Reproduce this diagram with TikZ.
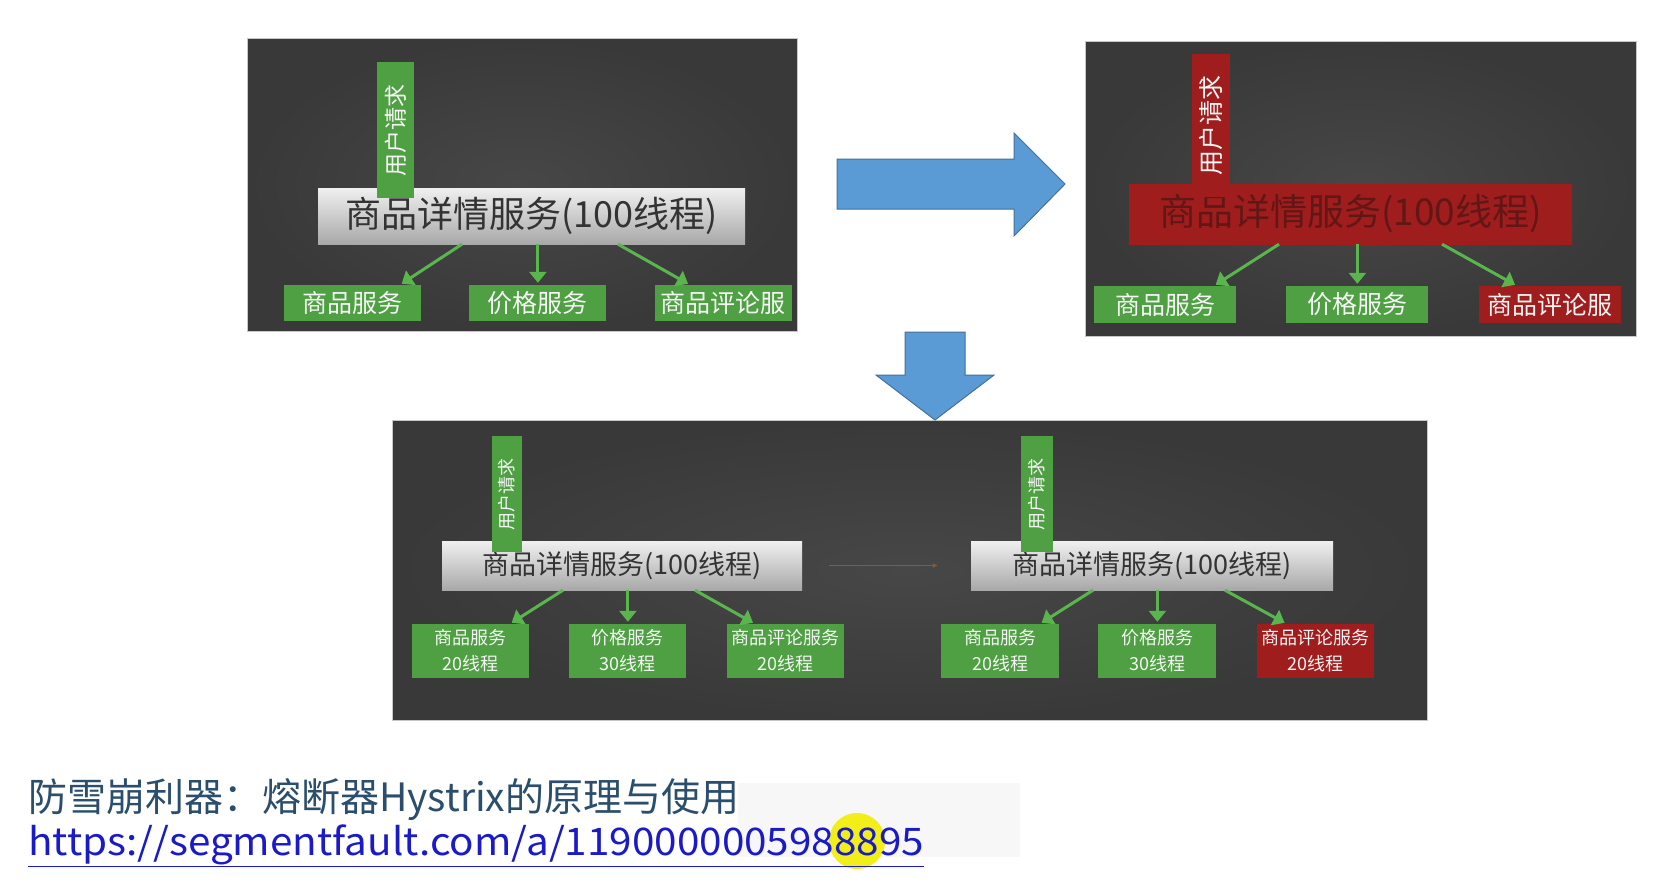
\documentclass[tikz,border=0pt]{standalone}
\usepackage{fontspec}
\setmainfont{Noto Sans CJK SC}
\newfontfamily\linkfont[FakeStretch=1.064]{Noto Sans CJK SC}
\usetikzlibrary{positioning, arrows.meta}
\definecolor{panellight}{HTML}{474747}
\definecolor{paneldark}{HTML}{393939}
\definecolor{boxgreen}{HTML}{4FA043}
\definecolor{boxred}{HTML}{A01D1D}
\definecolor{redtext}{HTML}{621616}
\definecolor{flowgreen}{HTML}{5BB54F}
\definecolor{traceorange}{HTML}{8C5A2E}
\definecolor{blockblue}{HTML}{5B9BD5}
\definecolor{blockedge}{HTML}{41719C}
\definecolor{titleblue}{HTML}{2A4E6C}
\definecolor{linkblue}{HTML}{1A1AC8}
\definecolor{hilite}{HTML}{F2EE1A}

\begin{document}
\begin{tikzpicture}[
    x=1pt, y=-1pt,
    panel/.style={rectangle, draw=black!22, line width=1pt, inner color=panellight,
                  outer color=paneldark, inner sep=0pt},
    detail/.style={rectangle, top color=black!6, bottom color=black!34, text=black!80,
                   inner sep=0pt, font=\fontsize{36pt}{40pt}\selectfont},
    svc/.style={rectangle, fill=boxgreen, text=black!4, inner sep=0pt,
                font=\fontsize{25pt}{28pt}\selectfont},
    svcsmall/.style={svc, align=center, minimum width=117pt, minimum height=54pt,
                     font=\fontsize{18pt}{26pt}\selectfont},
    req/.style={svc, rotate=90},
    flow/.style={-{Triangle[length=11pt, width=17pt]}, line width=3pt, flowgreen, shorten >=2pt},
    block/.style={fill=blockblue, draw=blockedge, line width=1pt}
  ]
    \useasboundingbox (0,0) rectangle (1654,889);
    \fill[white] (0,0) rectangle (1654,889);

    \node[panel, minimum width=550pt, minimum height=293pt] (p1) at (522,184.5) {};
    \node[panel, minimum width=551pt, minimum height=295pt] (p2) at (1360.5,188.5) {};
    \node[panel, minimum width=1035pt, minimum height=300pt] (p3) at (909.5,570) {};

    \node[detail, minimum width=427pt, minimum height=56pt] (d1) at (531.5,216) {商品详情服务(100线程)};
    \node[req, minimum width=136pt, minimum height=37pt, font=\fontsize{23pt}{26pt}\selectfont] (u1) at (395.5,130) {用户请求};
    \node[svc, minimum width=137pt, minimum height=36pt] (b11) at (352.5,303) {商品服务};
    \node[svc, minimum width=137pt, minimum height=36pt, right=48pt of b11] (b12) {价格服务};
    \node[svc, minimum width=137pt, minimum height=36pt, right=48pt of b12] (b13) {商品评论服};
    \draw[flow] ([xshift=-69.5pt]d1.south) -- ([xshift=47.5pt]b11.north);
    \draw[flow] (b12.north |- d1.south) -- (b12.north);
    \draw[flow] ([xshift=86.5pt]d1.south) -- ([xshift=-33.5pt]b13.north);

    \node[detail, fill=boxred, top color=boxred, bottom color=boxred, text=redtext,
          minimum width=443pt, minimum height=60pt, font=\fontsize{37pt}{40pt}\selectfont] (d2) at (1350.5,214) {商品详情服务(100线程)};
    \node[req, fill=boxred, minimum width=143pt, minimum height=38pt] (u2) at (1211,125.5) {用户请求};
    \node[svc, minimum width=142pt, minimum height=37pt] (b21) at (1165,304.5) {商品服务};
    \node[svc, minimum width=142pt, minimum height=37pt, right=50pt of b21] (b22) {价格服务};
    \node[svc, fill=boxred, minimum width=142pt, minimum height=37pt, right=50pt of b22] (b23) {商品评论服};
    \draw[flow] ([xshift=-71.5pt]d2.south) -- ([xshift=49pt]b21.north);
    \draw[flow] (b22.north |- d2.south) -- (b22.north);
    \draw[flow] ([xshift=91.5pt]d2.south) -- ([xshift=-33pt]b23.north);

    \node[detail, minimum width=360pt, minimum height=49pt, font=\fontsize{27pt}{30pt}\selectfont] (d3) at (622,565.5) {商品详情服务(100线程)};
    \node[req, minimum width=116pt, minimum height=30pt, font=\fontsize{18pt}{20pt}\selectfont] (u3) at (507,494) {用户请求};
    \node[svcsmall] (b31) at (470.5,651) {商品服务\\20线程};
    \node[svcsmall, right=40pt of b31] (b32) {价格服务\\30线程};
    \node[svcsmall, right=40pt of b32] (b33) {商品评论服务\\20线程};
    \draw[flow] ([xshift=-59pt]d3.south) -- ([xshift=39.5pt]b31.north);
    \draw[flow] (b32.north |- d3.south) -- (b32.north);
    \draw[flow] ([xshift=73pt]d3.south) -- ([xshift=-30.5pt]b33.north);

    \node[detail, minimum width=362pt, minimum height=49pt, font=\fontsize{27pt}{30pt}\selectfont] (d4) at (1152,565.5) {商品详情服务(100线程)};
    \node[req, minimum width=116pt, minimum height=32pt, font=\fontsize{18pt}{20pt}\selectfont] (u4) at (1037,494) {用户请求};
    \node[svcsmall, minimum width=118pt] (b41) at (1000,651) {商品服务\\20线程};
    \node[svcsmall, minimum width=118pt, right=39pt of b41] (b42) {价格服务\\30线程};
    \node[svcsmall, fill=boxred, right=40pt of b42] (b43) {商品评论服务\\20线程};
    \draw[flow] ([xshift=-59pt]d4.south) -- ([xshift=40pt]b41.north);
    \draw[flow] (b42.north |- d4.south) -- (b42.north);
    \draw[flow] ([xshift=73pt]d4.south) -- ([xshift=-29pt]b43.north);

    \draw[-{Latex[length=5pt, width=5pt]}, traceorange, line width=1pt,
          shorten <=27pt, shorten >=33pt] (d3.east) -- (d4.west);

    \draw[block] (837,159) -- (1014,159) -- (1014,133) -- (1065,184) -- (1014,236) -- (1014,209) -- (837,209) -- cycle;
    \draw[block] (905,332) -- (965,332) -- (965,375) -- (994,375) -- (935,420) -- (876,375) -- (905,375) -- cycle;

    \fill[black!3] (738,783) rectangle (1020,857);
    \fill[hilite] (857,841) circle (28pt);
    \node[anchor=base west, inner sep=0pt, text=titleblue, font=\fontsize{39pt}{42pt}\selectfont] (title) at (28,811) {防雪崩利器：熔断器Hystrix的原理与使用};
    \node[anchor=base west, inner sep=0pt, text=linkblue, font=\linkfont\fontsize{38pt}{40pt}\selectfont] (link) at (28,855) {\underline{https://segmentfault.com/a/1190000005988895}};
  \end{tikzpicture}
\end{document}
